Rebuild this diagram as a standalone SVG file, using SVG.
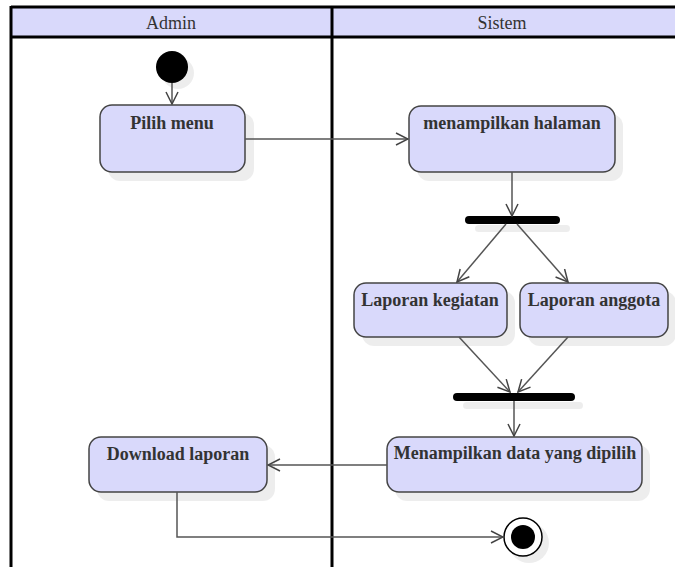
<svg xmlns="http://www.w3.org/2000/svg" width="675" height="567" viewBox="0 0 675 567">
<defs>
<style>
.act{fill:#d9d9fb;stroke:#444;stroke-width:1.5}
.sh{fill:#000;opacity:0.07}
.lbl{font-family:"Liberation Serif","Times New Roman",serif;font-size:18px;font-weight:bold;fill:#333;text-anchor:middle}
.hd{font-family:"Liberation Serif","Times New Roman",serif;font-size:18px;fill:#333;text-anchor:middle}
.ln{stroke:#555;stroke-width:1.5;fill:none}
.fr{stroke:#000;stroke-width:3;fill:none}
</style>
<marker id="arr" viewBox="0 0 14 14" refX="13" refY="7" markerWidth="14" markerHeight="14" markerUnits="userSpaceOnUse" orient="auto">
<path d="M1,1 L13,7 L1,13" fill="none" stroke="#444" stroke-width="1.5"/>
</marker>
</defs>
<rect width="675" height="567" fill="#fff"/>
<g id="lanes">
<rect x="11" y="7" width="670" height="30" fill="#d9d9fb"/>
<line class="fr" x1="11" y1="7" x2="680" y2="7"/>
<line class="fr" x1="11" y1="37" x2="680" y2="37"/>
<line class="fr" x1="11" y1="6" x2="11" y2="570"/>
<line class="fr" x1="332" y1="6" x2="332" y2="570"/>
<text class="hd" x="171" y="29">Admin</text>
<text class="hd" x="502" y="29">Sistem</text>
</g>
<g id="start">
<circle class="sh" cx="178" cy="73" r="16"/>
<circle cx="172" cy="67" r="16" fill="#000"/>
</g>
<g id="pilih">
<rect class="sh" x="108" y="113" width="146" height="68" rx="12"/>
<rect class="act" x="100" y="105" width="145" height="67" rx="12"/>
<text class="lbl" x="172" y="129">Pilih menu</text>
</g>
<g id="halaman">
<rect class="sh" x="417" y="114" width="206" height="67" rx="12"/>
<rect class="act" x="409" y="106" width="206" height="66" rx="12"/>
<text class="lbl" x="512" y="129">menampilkan halaman</text>
</g>
<g id="fork">
<rect class="sh" x="475" y="225" width="95" height="7" rx="3.5"/>
<rect x="465" y="216" width="95" height="8" rx="4" fill="#000"/>
</g>
<g id="kegiatan">
<rect class="sh" x="362" y="291" width="153" height="55" rx="12"/>
<rect class="act" x="354" y="283" width="153" height="54" rx="12"/>
<text class="lbl" x="430" y="306">Laporan kegiatan</text>
</g>
<g id="anggota">
<rect class="sh" x="528" y="291" width="148" height="55" rx="12"/>
<rect class="act" x="520" y="283" width="148" height="54" rx="12"/>
<text class="lbl" x="594" y="306">Laporan anggota</text>
</g>
<g id="join">
<rect class="sh" x="463" y="402" width="120" height="7" rx="3.5"/>
<rect x="453" y="393" width="122" height="8" rx="4" fill="#000"/>
</g>
<g id="tampil">
<rect class="sh" x="395" y="445" width="255" height="56" rx="12"/>
<rect class="act" x="387" y="437" width="255" height="55" rx="12"/>
<text class="lbl" x="515" y="459">Menampilkan data yang dipilih</text>
</g>
<g id="download">
<rect class="sh" x="97" y="445" width="178" height="56" rx="12"/>
<rect class="act" x="89" y="437" width="178" height="55" rx="12"/>
<text class="lbl" x="178" y="460">Download laporan</text>
</g>
<g id="end">
<circle class="sh" cx="529" cy="543" r="20"/>
<circle cx="523" cy="537" r="19" fill="#fff" stroke="#000" stroke-width="1.5"/>
<circle cx="523" cy="537" r="12" fill="#000"/>
</g>
<g id="connectors">
<line class="ln" x1="172" y1="83" x2="172" y2="104" marker-end="url(#arr)"/>
<line class="ln" x1="245" y1="139" x2="408" y2="139" marker-end="url(#arr)"/>
<line class="ln" x1="512" y1="172" x2="512" y2="216" marker-end="url(#arr)"/>
<line class="ln" x1="506" y1="224" x2="457" y2="282" marker-end="url(#arr)"/>
<line class="ln" x1="517" y1="224" x2="568" y2="282" marker-end="url(#arr)"/>
<line class="ln" x1="459" y1="337" x2="510" y2="392" marker-end="url(#arr)"/>
<line class="ln" x1="568" y1="337" x2="518" y2="392" marker-end="url(#arr)"/>
<line class="ln" x1="514" y1="401" x2="514" y2="436" marker-end="url(#arr)"/>
<line class="ln" x1="387" y1="465" x2="268" y2="465" marker-end="url(#arr)"/>
<polyline class="ln" points="177,492 177,537 503,537" marker-end="url(#arr)"/>
</g>
</svg>
